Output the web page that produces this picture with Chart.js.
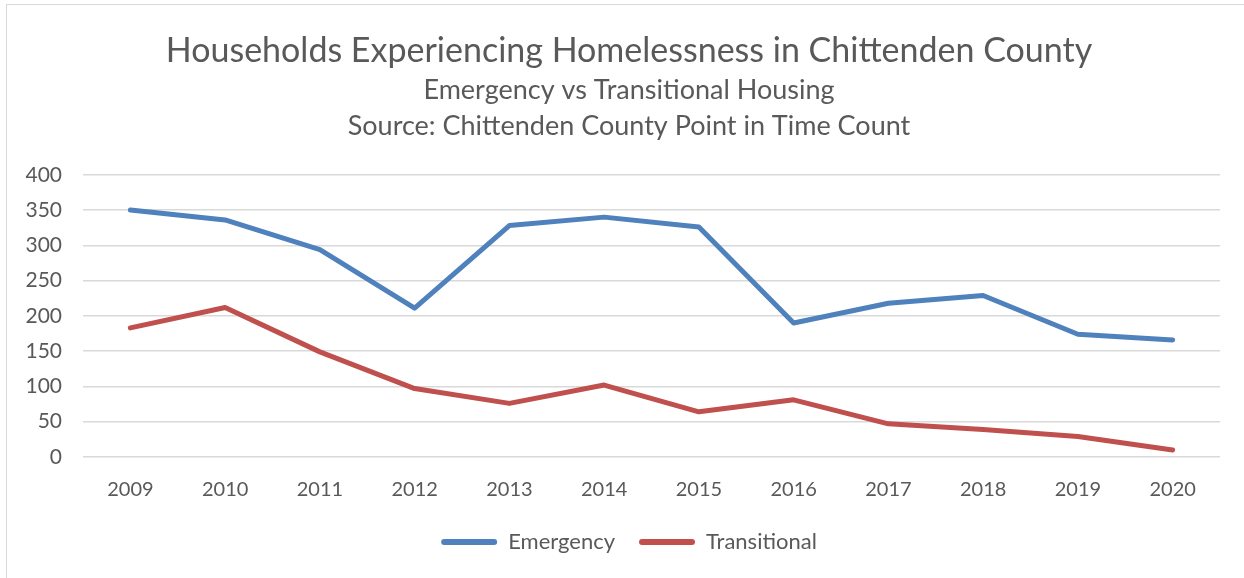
<!DOCTYPE html>
<html>
<head>
<meta charset="utf-8">
<script src="https://cdn.jsdelivr.net/npm/chart.js@4/dist/chart.umd.min.js"></script>
<style>
  html, body { margin: 0; padding: 0; background: #fff; overflow: hidden; }
  #frame { position: absolute; left: 6px; top: 4px; width: 1260px; height: 600px; border: 1.5px solid #d9d9d9; box-sizing: border-box; }
  #wrap { position: absolute; left: 0; top: 0; width: 1244px; height: 578px; }
</style>
</head>
<body>
<div id="frame"></div>
<div id="wrap"><canvas id="c" width="1244" height="578"></canvas></div>
<script>
// Point in Time Count, households by shelter type
const years = ['2009','2010','2011','2012','2013','2014','2015','2016','2017','2018','2019','2020'];
const emergency = [350, 336, 294, 211, 328, 340, 326, 190, 218, 229, 174, 166];
const transitional = [183, 212, 149, 97, 76, 102, 64, 81, 47, 39, 29, 10];
const yTicks = [0, 50, 100, 150, 200, 250, 300, 350, 400];

const TEXT = '#595959';
const GRID = '#d9d9d9';
const FONT = 'Lato';

new Chart(document.getElementById('c'), {
  type: 'line',
  data: {
    labels: years,
    datasets: [
      { label: 'Emergency', data: emergency, borderColor: '#4F81BD', backgroundColor: '#4F81BD' },
      { label: 'Transitional', data: transitional, borderColor: '#C0504D', backgroundColor: '#C0504D' }
    ]
  },
  options: {
    responsive: false,
    animation: false,
    devicePixelRatio: 1,
    layout: { padding: { left: 38, right: 24, top: 0, bottom: 15 } },
    elements: {
      line: { borderWidth: 5, tension: 0, borderCapStyle: 'round', borderJoinStyle: 'round' },
      point: { radius: 0, hoverRadius: 0 }
    },
    scales: {
      x: {
        offset: true,
        grid: { display: false, drawTicks: false },
        border: { display: false },
        ticks: { color: TEXT, font: { family: FONT, size: 20 }, padding: 21, maxRotation: 0 },
        afterFit: s => { s.height = 50; }
      },
      y: {
        min: 0, max: 400,
        afterBuildTicks: s => { s.ticks = yTicks.map(v => ({ value: v })); },
        grid: { color: GRID, lineWidth: 1.5, drawTicks: false },
        border: { display: false },
        ticks: { color: TEXT, font: { family: FONT, size: 21 }, padding: 21 },
        afterFit: s => {
          s.width = 45;
          // labels extend into the left margin; let them draw unclipped
          s._computeLabelArea = () => undefined;
        }
      }
    },
    plugins: {
      title: {
        display: true,
        text: 'Households Experiencing Homelessness in Chittenden County',
        color: TEXT,
        font: { family: FONT, size: 34, weight: 'normal', lineHeight: 1.2 },
        padding: { top: 31, bottom: 0 }
      },
      subtitle: {
        display: true,
        text: ['Emergency vs Transitional Housing', 'Source: Chittenden County Point in Time Count'],
        color: TEXT,
        font: { family: FONT, size: 27, weight: 'normal', lineHeight: 36 / 27 },
        padding: { top: 0, bottom: 31 }
      },
      legend: {
        position: 'bottom',
        labels: {
          color: TEXT,
          font: { family: FONT, size: 22 },
          boxWidth: 56,
          boxHeight: 6,
          useBorderRadius: true,
          borderRadius: 3,
          padding: 24,
          generateLabels: chart => Chart.defaults.plugins.legend.labels.generateLabels(chart).map(l => Object.assign(l, { lineWidth: 0 }))
        }
      },
      tooltip: { enabled: false }
    }
  }
});
</script>
</body>
</html>
